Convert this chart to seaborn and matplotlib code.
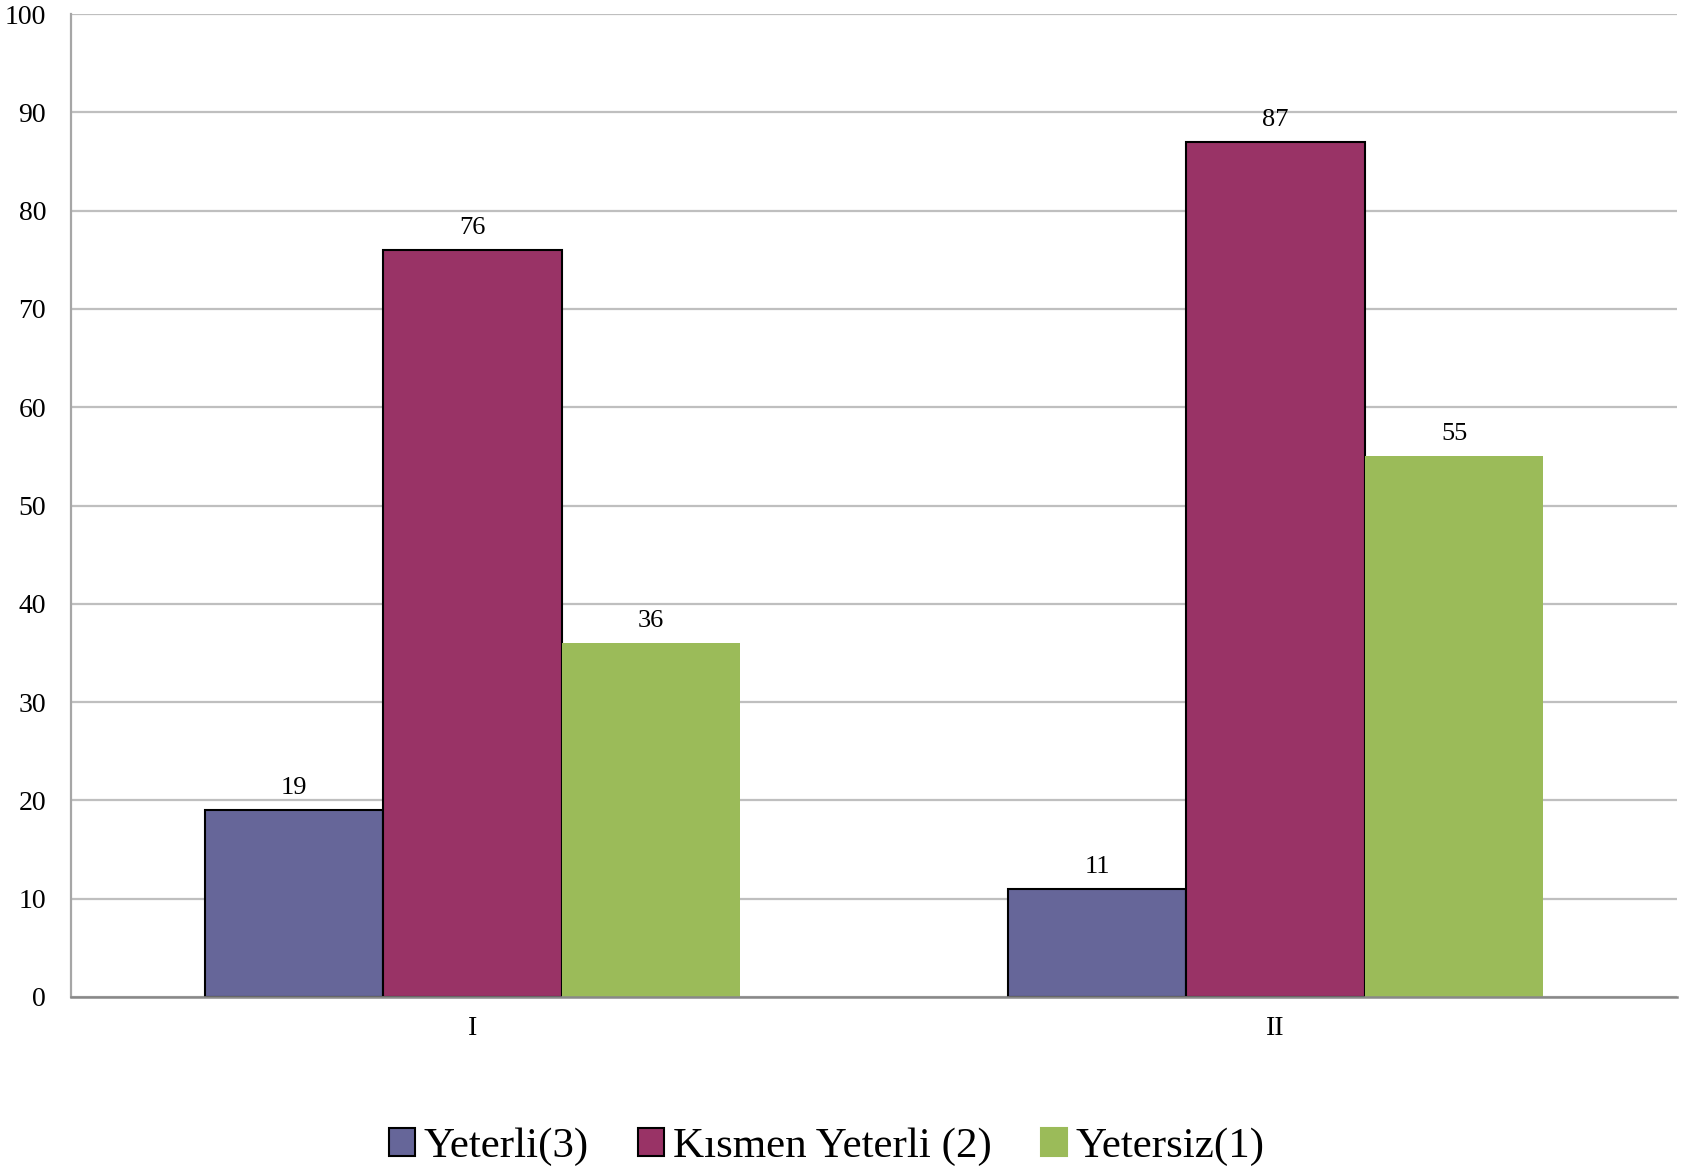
import matplotlib
matplotlib.use("Agg")
import matplotlib.pyplot as plt
import seaborn as sns
import pandas as pd
from matplotlib.patches import Patch

categories = ["I", "II"]
series_names = ["Yeterli(3)", "Kısmen Yeterli (2)", "Yetersiz(1)"]
yeterli = [19, 11]
kismen = [76, 87]
yetersiz = [36, 55]
colors = ["#666699", "#993366", "#9BBB59"]
edges = ["black", "black", "none"]

rows = []
for name, vals in zip(series_names, [yeterli, kismen, yetersiz]):
    for c, v in zip(categories, vals):
        rows.append({"cat": c, "series": name, "value": v})
df = pd.DataFrame(rows)

sns.set_style("white")
plt.rcParams["font.family"] = ["Liberation Serif", "DejaVu Serif"]
plt.rcParams["text.color"] = "black"
plt.rcParams["xtick.color"] = "black"
plt.rcParams["ytick.color"] = "black"

fig = plt.figure(figsize=(16.89, 11.71), dpi=100)
ax = fig.add_axes([71/1689, 1 - 997/1171, 1606/1689, 983/1171])

sns.barplot(data=df, x="cat", y="value", hue="series", order=categories,
            hue_order=series_names, palette=colors, width=0.667, saturation=1,
            ax=ax, legend=False, errorbar=None)

for cont, ec in zip(ax.containers, edges):
    for p in cont:
        if ec == "none":
            p.set_edgecolor(p.get_facecolor())
            p.set_linewidth(0)
        else:
            p.set_edgecolor(ec)
            p.set_linewidth(1.5)
    ax.bar_label(cont, labels=[str(int(v)) for v in cont.datavalues],
                 padding=8, fontsize=19, color="black")

ax.set_xlim(-0.5, 1.5)
ax.set_ylim(0, 100)
ax.set_yticks(range(0, 101, 10))
ax.yaxis.grid(True, color="#BFBFBF", linewidth=1.6)
ax.set_axisbelow(True)
ax.set_xlabel("")
ax.set_ylabel("")
ax.tick_params(axis="y", labelsize=20, length=0, pad=18, labelcolor="black")
ax.tick_params(axis="x", labelsize=20, length=0, pad=14, labelcolor="black")
for s in ["top", "right"]:
    ax.spines[s].set_visible(False)
ax.spines["left"].set_color("#A6A6A6")
ax.spines["left"].set_linewidth(1.6)
ax.spines["bottom"].set_color("#888888")
ax.spines["bottom"].set_linewidth(1.8)

handles = [Patch(facecolor=c, edgecolor=("black" if e != "none" else c), linewidth=1.5)
           for c, e in zip(colors, edges)]
fig.legend(handles, series_names, loc="center", bbox_to_anchor=(827/1689, 1 - 1147/1171),
           ncol=3, frameon=False, fontsize=31, handlelength=0.6, handleheight=0.6,
           handletextpad=0.2, columnspacing=1.15)

fig.savefig("out.png", dpi=100)
